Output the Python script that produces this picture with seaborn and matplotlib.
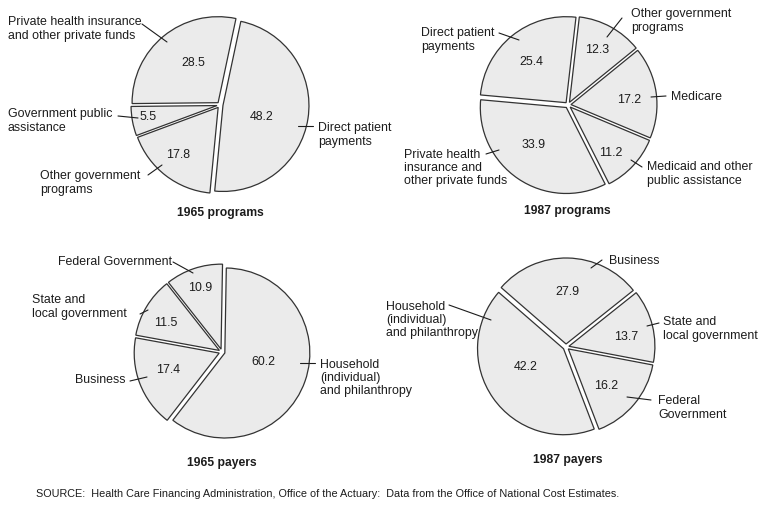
import numpy as np
import matplotlib
matplotlib.use("Agg")
import matplotlib.pyplot as plt
import seaborn as sns

# data
prog65_labels = ["Private health insurance\nand other private funds", "Government public\nassistance",
                 "Other government\nprograms", "Direct patient\npayments"]
prog65_values = [28.5, 5.5, 17.8, 48.2]

prog87_labels = ["Direct patient\npayments", "Private health\ninsurance and\nother private funds",
                 "Medicaid and other\npublic assistance", "Medicare", "Other government\nprograms"]
prog87_values = [25.4, 33.9, 11.2, 17.2, 12.3]

pay65_labels = ["Federal Government", "State and\nlocal government", "Business",
                "Household\n(individual)\nand philanthropy"]
pay65_values = [10.9, 11.5, 17.4, 60.2]

pay87_labels = ["Household\n(individual)\nand philanthropy", "Federal\nGovernment",
                "State and\nlocal government", "Business"]
pay87_values = [42.2, 16.2, 13.7, 27.9]

titles = ["1965 programs", "1987 programs", "1965 payers", "1987 payers"]
source = ("SOURCE:  Health Care Financing Administration, Office of the Actuary:  "
          "Data from the Office of National Cost Estimates.")

sns.set_theme(style="white")
plt.rcParams['font.family'] = ['Liberation Sans', 'DejaVu Sans']

W, H = 768, 507
fill = '#ebebeb'
ink = '#1c1c1c'
fs = 8.9

# layout in pixel coords (y down): center, radius, start angle, label text pos / ha, leader lines, value pos
layout = [
    dict(center=(220, 105), r=86, start=78, title=(220, 213),
         text=[(8, 29, 'left'), (8, 121, 'left'), (40, 183, 'left'), (318, 135, 'left')],
         lines=[(142, 24, 167, 42), (118, 116, 138, 118), (148, 175, 162, 165), (298, 126, 313, 126)],
         vals=[(193, 63), (148, 117), (178, 155), (262, 117)]),
    dict(center=(568, 105), r=86, start=83.4, title=(567, 211),
         text=[(421, 40, 'left'), (404, 168, 'left'), (647, 174, 'left'), (671, 97, 'left'), (631, 21, 'left')],
         lines=[(499, 33, 519, 40), (486, 154, 499, 150), (631, 160, 642, 167), (651, 97, 666, 96), (622, 18, 607, 37)],
         vals=[(531, 62), (534, 145), (611, 153), (629, 100), (597, 50)]),
    dict(center=(222, 352), r=85, start=89, title=(222, 463),
         text=[(58, 262, 'left'), (32, 307, 'left'), (125, 380, 'right'), (320, 378, 'left')],
         lines=[(173, 262, 193, 273), (140, 314, 148, 310), (130, 381, 147, 377), (300, 363, 315, 363)],
         vals=[(200, 288), (166, 323), (168, 370), (263, 362)]),
    dict(center=(566, 347), r=86, start=139, title=(568, 460),
         text=[(386, 320, 'left'), (658, 408, 'left'), (663, 329, 'left'), (609, 261, 'left')],
         lines=[(449, 305, 491, 320), (651, 400, 627, 397), (659, 323, 647, 326), (602, 260, 591, 268)],
         vals=[(526, 367), (606, 386), (626, 337), (567, 292)]),
]

series = [(prog65_labels, prog65_values), (prog87_labels, prog87_values),
          (pay65_labels, pay65_values), (pay87_labels, pay87_values)]

fig = plt.figure(figsize=(W / 100, H / 100), dpi=100)
ax = fig.add_axes([0, 0, 1, 1])

for (labels, values), lay, title in zip(series, layout, titles):
    cx, cy = lay['center']
    # explode is in data units (pixels here)
    ax.pie(values, center=(cx, H - cy), radius=lay['r'], startangle=lay['start'],
           explode=[3.0] * len(values), colors=[fill] * len(values),
           wedgeprops=dict(edgecolor='#333333', linewidth=0.9))
    for lab, (tx, ty, ha) in zip(labels, lay['text']):
        ax.text(tx, H - ty, lab, ha=ha, va='center', fontsize=fs, color=ink, linespacing=1.15)
    for x0, y0, x1, y1 in lay['lines']:
        ax.plot([x0, x1], [H - y0, H - y1], color=ink, lw=0.8)
    for v, (vx, vy) in zip(values, lay['vals']):
        ax.text(vx, H - vy, f"{v:.1f}", ha='center', va='center', fontsize=fs, color=ink)
    ax.text(lay['title'][0], H - lay['title'][1], title, ha='center', va='center',
            fontsize=8.7, fontweight='bold', color=ink)

ax.text(36, H - 494, source, ha='left', va='center', fontsize=7.8, color=ink)

ax.set_xlim(0, W)
ax.set_ylim(0, H)
ax.set_aspect('equal')
ax.axis('off')

fig.savefig('out.png', dpi=100, facecolor='white')
